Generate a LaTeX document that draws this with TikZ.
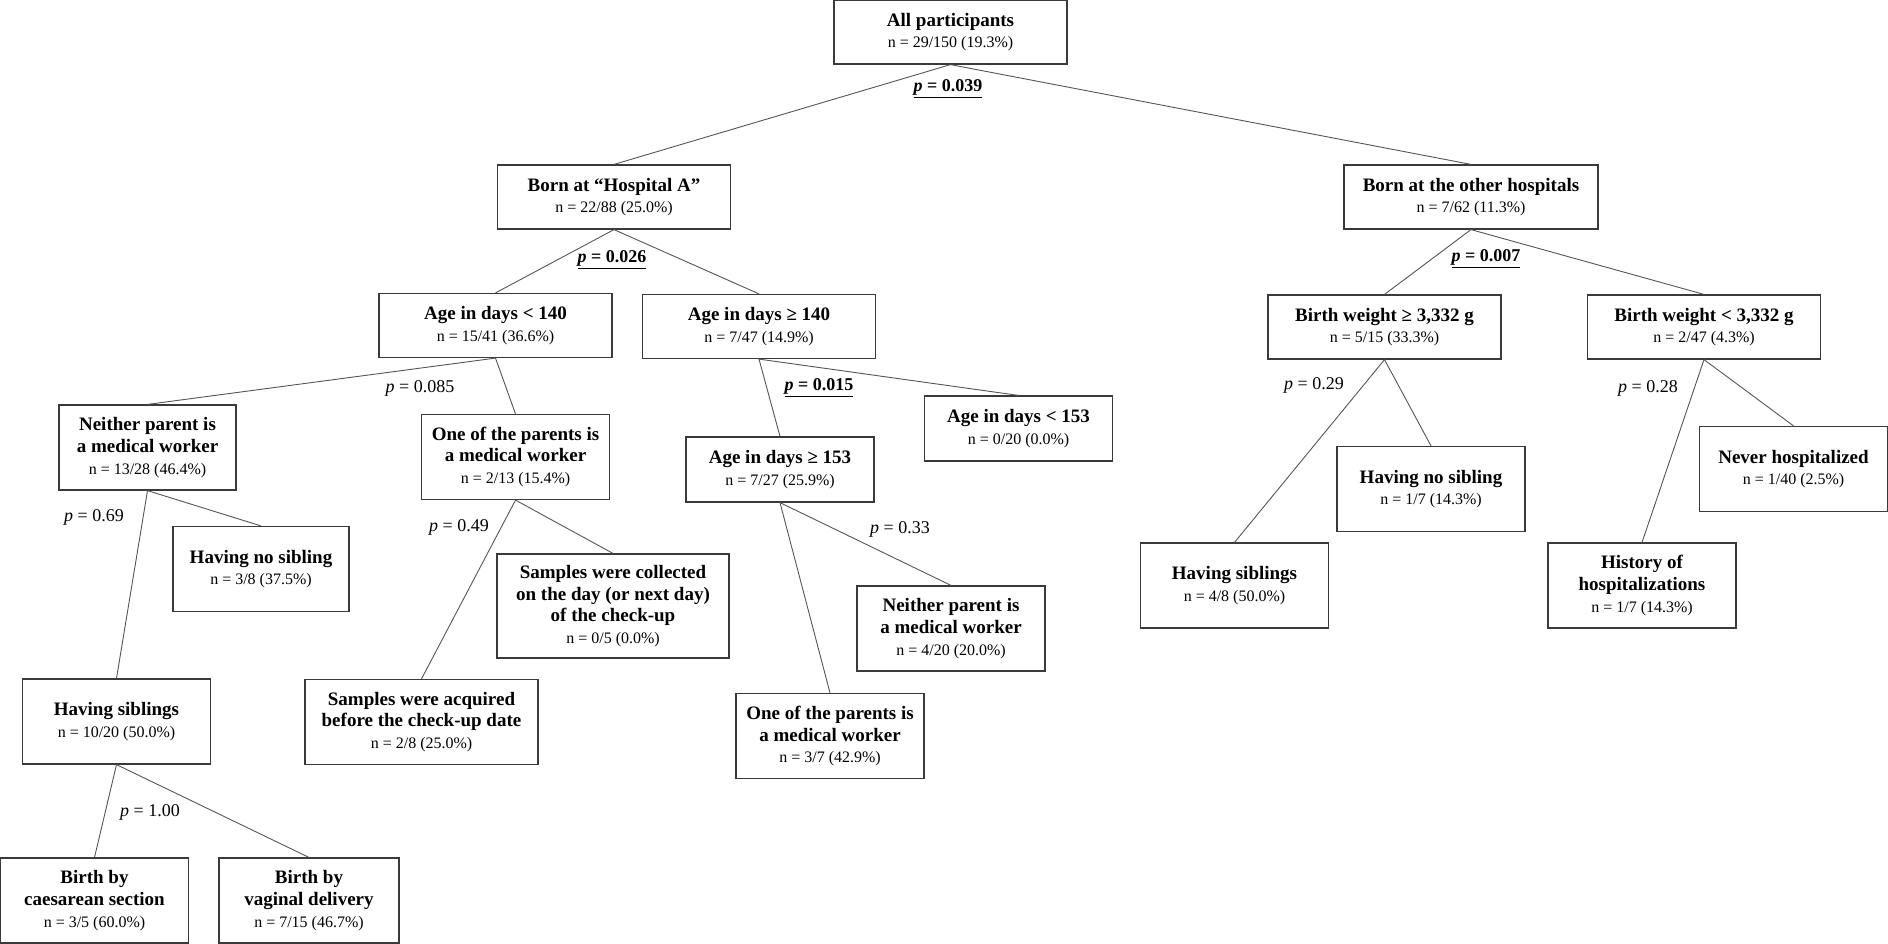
\documentclass[tikz,border=0pt]{standalone}
\usepackage{fontspec}
\setmainfont{Liberation Serif}
\usetikzlibrary{positioning}
\definecolor{boxgray}{HTML}{3A3A3A}
\definecolor{linegray}{HTML}{555555}
\newcommand{\nval}[1]{{\fontsize{8}{10.3}\selectfont\mdseries #1}}
\tikzset{
block/.style = {draw=boxgray, line width=0.6pt, fill=white, rectangle, align=center, inner sep=1pt, minimum width=94pt, minimum height=42.5pt, font=\fontsize{9.5}{10.8}\selectfont\bfseries},
wblock/.style = {block, minimum width=116.5pt, minimum height=32pt},
sblock/.style = {block, minimum height=32.5pt},
pval/.style = {font=\fontsize{9}{10}\selectfont, inner sep=0pt},
link/.style = {draw=linegray, line width=0.45pt}
}

\begin{document}
\begin{tikzpicture}[node distance=2cm]
  \useasboundingbox (0,0) rectangle (944pt,-471.5pt);

  \node [wblock] (root) at (475.25pt,-16pt) {All participants\\\nval{n = 29/150 (19.3\%)}};
  \node [wblock, below of=root, node distance=82.5pt, xshift=-168.25pt]                 (hospa)     {Born at “Hospital A”\\\nval{n = 22/88 (25.0\%)}};
  \node [wblock, below of=root, node distance=82.5pt, xshift=260.25pt, minimum width=127pt] (other) {Born at the other hospitals\\\nval{n = 7/62 (11.3\%)}};

  \node [wblock, below of=hospa, node distance=64.25pt, xshift=-59.25pt]               (agelt140)  {Age in days < 140\\\nval{n = 15/41 (36.6\%)}};
  \node [wblock, below of=hospa, node distance=64.75pt, xshift=72.5pt]                 (agege140)  {Age in days ≥ 140\\\nval{n = 7/47 (14.9\%)}};

  \node [block, below of=agelt140, node distance=61pt, xshift=-174pt, minimum width=88.5pt] (neither1) {Neither parent is\\a medical worker\\\nval{n = 13/28 (46.4\%)}};
  \node [block, below of=agelt140, node distance=65.75pt, xshift=10pt]                 (oneof1)    {One of the parents is\\a medical worker\\\nval{n = 2/13 (15.4\%)}};
  \node [block, below of=neither1, node distance=60.75pt, xshift=56.75pt, minimum width=88pt] (nosib1) {Having no sibling\\\nval{n = 3/8 (37.5\%)}};
  \node [block, below of=neither1, node distance=137pt, xshift=-15.5pt]                (sib1)      {Having siblings\\\nval{n = 10/20 (50.0\%)}};
  \node [block, below of=sib1, node distance=89.5pt, xshift=-11pt]                     (caes)      {Birth by\\caesarean section\\\nval{n = 3/5 (60.0\%)}};
  \node [block, below of=sib1, node distance=89.5pt, xshift=96.25pt, minimum width=90pt] (vag)     {Birth by\\vaginal delivery\\\nval{n = 7/15 (46.7\%)}};
  \node [block, below of=oneof1, node distance=74.5pt, xshift=48.75pt, minimum width=116pt, minimum height=52pt] (collected) {Samples were collected\\on the day (or next day)\\of the check-up\\\nval{n = 0/5 (0.0\%)}};
  \node [block, below of=oneof1, node distance=132.5pt, xshift=-47pt, minimum width=116.5pt] (acquired) {Samples were acquired\\before the check-up date\\\nval{n = 2/8 (25.0\%)}};

  \node [sblock, below of=agege140, node distance=71.5pt, xshift=10.5pt]               (agege153)  {Age in days ≥ 153\\\nval{n = 7/27 (25.9\%)}};
  \node [sblock, below of=agege140, node distance=51pt, xshift=129.75pt]               (agelt153)  {Age in days < 153\\\nval{n = 0/20 (0.0\%)}};
  \node [block, below of=agege153, node distance=79.5pt, xshift=85.5pt]                (neither2)  {Neither parent is\\a medical worker\\\nval{n = 4/20 (20.0\%)}};
  \node [block, below of=agege153, node distance=133.25pt, xshift=25pt]                (oneof2)    {One of the parents is\\a medical worker\\\nval{n = 3/7 (42.9\%)}};

  \node [wblock, below of=other, node distance=65pt, xshift=-43.25pt]                  (bwge)      {Birth weight ≥ 3,332 g\\\nval{n = 5/15 (33.3\%)}};
  \node [wblock, below of=other, node distance=65pt, xshift=116.5pt]                   (bwlt)      {Birth weight < 3,332 g\\\nval{n = 2/47 (4.3\%)}};
  \node [block, below of=bwge, node distance=81pt, xshift=23.25pt]                     (nosib2)    {Having no sibling\\\nval{n = 1/7 (14.3\%)}};
  \node [block, below of=bwge, node distance=129.25pt, xshift=-75pt]                   (sib2)      {Having siblings\\\nval{n = 4/8 (50.0\%)}};
  \node [block, below of=bwlt, node distance=71pt, xshift=44.75pt]                     (never)     {Never hospitalized\\\nval{n = 1/40 (2.5\%)}};
  \node [block, below of=bwlt, node distance=129.25pt, xshift=-31pt]                   (history)   {History of\\hospitalizations\\\nval{n = 1/7 (14.3\%)}};

  % p values
  \node [pval, below of=root, node distance=28.5pt, xshift=-1.25pt]      (p039) {\underline{\textbf{\textit{p} = 0.039}}};
  \node [pval, below of=hospa, node distance=31.5pt, xshift=-1pt]        (p026) {\underline{\textbf{\textit{p} = 0.026}}};
  \node [pval, below of=agelt140, node distance=31.25pt, xshift=-37.75pt] (p085) {\textit{p} = 0.085};
  \node [pval, below of=agege140, node distance=30.75pt, xshift=30pt]    (p015) {\underline{\textbf{\textit{p} = 0.015}}};
  \node [pval, below of=neither1, node distance=34.75pt, xshift=-26.75pt] (p069) {\textit{p} = 0.69};
  \node [pval, below of=oneof1, node distance=35pt, xshift=-28.25pt]     (p049) {\textit{p} = 0.49};
  \node [pval, below of=agege153, node distance=29.75pt, xshift=60pt]    (p033) {\textit{p} = 0.33};
  \node [pval, below of=sib1, node distance=45.25pt, xshift=16.75pt]     (p100) {\textit{p} = 1.00};
  \node [pval, below of=other, node distance=31pt, xshift=7.5pt]         (p007) {\underline{\textbf{\textit{p} = 0.007}}};
  \node [pval, below of=bwge, node distance=29pt, xshift=-35.25pt]       (p029) {\textit{p} = 0.29};
  \node [pval, below of=bwlt, node distance=30.5pt, xshift=-28pt]        (p028) {\textit{p} = 0.28};

  \draw [link] (root.south) -- (hospa.north);
  \draw [link] (root.south) -- (other.north);
  \draw [link] (hospa.south) -- (agelt140.north);
  \draw [link] (hospa.south) -- (agege140.north);
  \draw [link] (agelt140.south) -- (neither1.north);
  \draw [link] (agelt140.south) -- (oneof1.north);
  \draw [link] (neither1.south) -- (nosib1.north);
  \draw [link] (neither1.south) -- (sib1.north);
  \draw [link] (sib1.south) -- (caes.north);
  \draw [link] (sib1.south) -- (vag.north);
  \draw [link] (oneof1.south) -- (collected.north);
  \draw [link] (oneof1.south) -- (acquired.north);
  \draw [link] (agege140.south) -- (agege153.north);
  \draw [link] (agege140.south) -- (agelt153.north);
  \draw [link] (agege153.south) -- (neither2.north);
  \draw [link] (agege153.south) -- (oneof2.north);
  \draw [link] (other.south) -- (bwge.north);
  \draw [link] (other.south) -- (bwlt.north);
  \draw [link] (bwge.south) -- (nosib2.north);
  \draw [link] (bwge.south) -- (sib2.north);
  \draw [link] (bwlt.south) -- (never.north);
  \draw [link] (bwlt.south) -- (history.north);
\end{tikzpicture}
\end{document}
